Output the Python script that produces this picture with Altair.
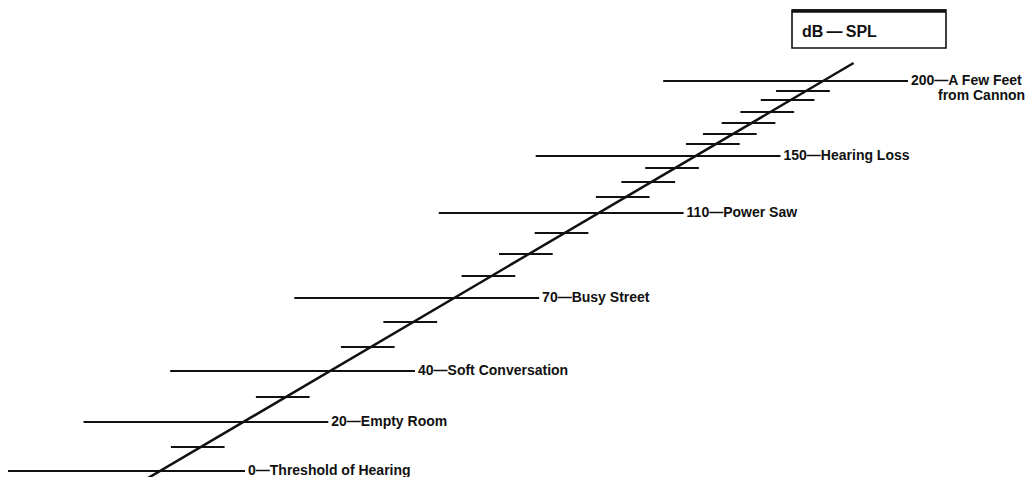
import altair as alt
import pandas as pd

# Vertical rise of each scale tick above the 0 dB tick
tick_rise = [0, 24, 49, 74, 100, 124, 149, 173, 195, 217, 238, 258,
             274, 289, 303, 315, 327, 337, 348, 359, 371, 380, 390]
# Which ticks carry a label
label_index = [0, 2, 4, 7, 11, 15, 22]
label_db = [0, 20, 40, 70, 110, 150, 200]
label_text = ["Threshold of Hearing", "Empty Room", "Soft Conversation",
              "Busy Street", "Power Saw", "Hearing Loss", "A Few Feet"]
label_line2 = ["", "", "", "", "", "", "from Cannon"]
unit_name = "dB\u2009\u2014\u2009SPL"

# style constants (in x-scale units)
LONG_L, LONG_R = 94.0, 50.0
SHORT_L, SHORT_R = 17.6, 14.0
INK = "#111111"
FONT = "Liberation Sans"
FS = 14

rows = []
for i, r in enumerate(tick_rise):
    is_long = i in label_index
    if is_long:
        k = label_index.index(i)
        lab = f"{label_db[k]}\u2014{label_text[k]}"
        lab2 = label_line2[k]
    else:
        lab, lab2 = "", ""
    rows.append({
        "rise": r,
        "left": r - (LONG_L if is_long else SHORT_L),
        "right": r + (LONG_R if is_long else SHORT_R),
        "long": is_long,
        "label": lab,
        "label2": lab2,
    })
ticks = pd.DataFrame(rows)
diag = pd.DataFrame({"rise": [tick_rise[0] - 12, tick_rise[-1] + 18]})

W, H = 1018, 469
xs = alt.Scale(domain=[-152 / 1.7, (W - 152) / 1.7], nice=False, zero=False)
ys = alt.Scale(domain=[-6, H - 6], nice=False, zero=False)

base_t = alt.Chart(ticks)

rules = base_t.mark_rule(color=INK, strokeWidth=2).encode(
    x=alt.X("left:Q", scale=xs, axis=None),
    x2="right:Q",
    y=alt.Y("rise:Q", scale=ys, axis=None),
)

diag_line = alt.Chart(diag).mark_line(color=INK, strokeWidth=2.5).encode(
    x=alt.X("rise:Q", scale=xs, axis=None),
    y=alt.Y("rise:Q", scale=ys, axis=None),
)

labels = base_t.transform_filter("datum.long").mark_text(
    align="left", baseline="middle", dx=3, fontSize=FS,
    font=FONT, fontWeight="bold", color=INK,
).encode(
    x=alt.X("right:Q", scale=xs, axis=None),
    y=alt.Y("rise:Q", scale=ys, axis=None),
    text="label:N",
)

labels2 = base_t.transform_filter("datum.label2 != ''").mark_text(
    align="left", baseline="middle", dx=30, dy=15, fontSize=FS,
    font=FONT, fontWeight="bold", color=INK,
).encode(
    x=alt.X("right:Q", scale=xs, axis=None),
    y=alt.Y("rise:Q", scale=ys, axis=None),
    text="label2:N",
)

box_df = pd.DataFrame({"name": [unit_name]})
box = alt.Chart(box_df).mark_rect(fill="white", stroke=INK, strokeWidth=1.6).encode(
    x=alt.value(784), x2=alt.value(938), y=alt.value(2), y2=alt.value(40)
)
box_top = alt.Chart(box_df).mark_rule(color=INK, strokeWidth=3.5).encode(
    x=alt.value(784), x2=alt.value(938), y=alt.value(3)
)
box_text = alt.Chart(box_df).mark_text(
    align="left", baseline="middle", fontSize=16, font=FONT,
    fontWeight="bold", color=INK,
).encode(x=alt.value(794), y=alt.value(24), text="name:N")

chart = alt.layer(rules, diag_line, labels, labels2, box, box_top, box_text).properties(
    width=W, height=H,
    autosize=alt.AutoSizeParams(type="none"),
    padding=0,
    background="white",
).configure_view(stroke=None)

chart.save("out.html", embed_options={"renderer": "svg", "actions": False})
